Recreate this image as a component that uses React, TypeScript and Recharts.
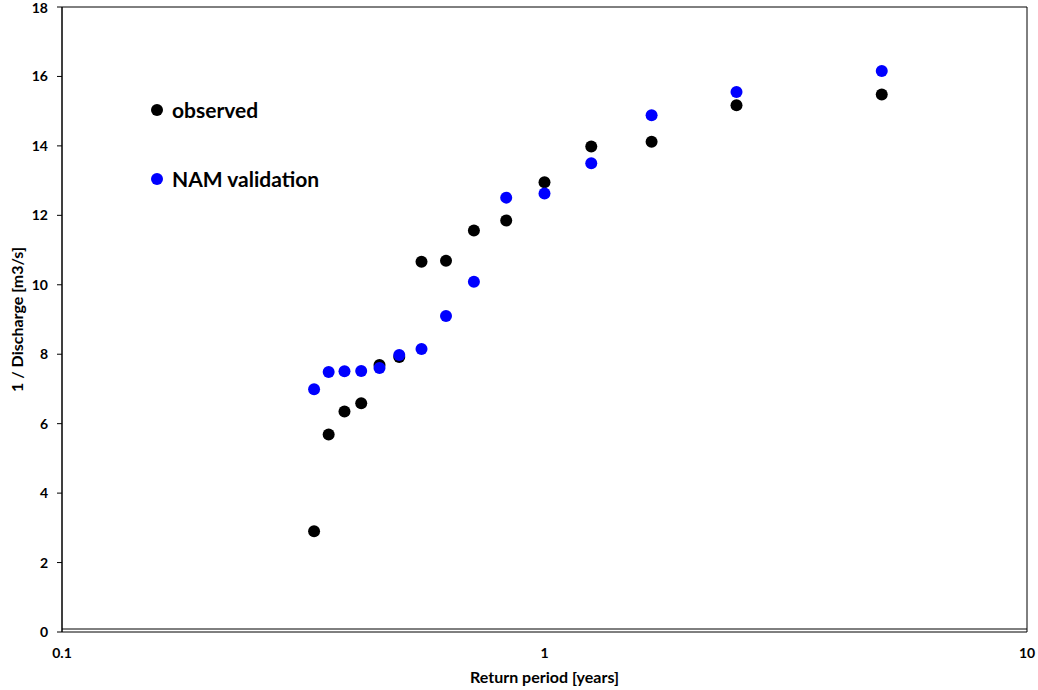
import {
  ScatterChart,
  Scatter,
  XAxis,
  YAxis,
  ReferenceArea,
  Legend,
} from "recharts"

const returnPeriod = [0.333, 0.357, 0.385, 0.417, 0.455, 0.5, 0.556, 0.625, 0.714, 0.833, 1, 1.25, 1.667, 2.5, 5]
const observed = [2.9, 5.69, 6.35, 6.59, 7.69, 7.92, 10.66, 10.69, 11.56, 11.85, 12.95, 13.98, 14.12, 15.17, 15.48]
const namValidation = [6.99, 7.49, 7.51, 7.52, 7.6, 7.98, 8.15, 9.1, 10.09, 12.51, 12.63, 13.5, 14.88, 15.55, 16.16]

const seriesNames = ["observed", "NAM validation"]
const xTicks = [0.1, 1, 10]
const yTicks = [0, 2, 4, 6, 8, 10, 12, 14, 16, 18]

const FONT = "Lato, 'Open Sans', sans-serif"

const observedData = returnPeriod.map((x, i) => ({ x, y: observed[i] }))
const namData = returnPeriod.map((x, i) => ({ x, y: namValidation[i] }))

function Dot(props: any) {
  return <circle cx={props.cx} cy={props.cy} r={6} fill={props.fill} />
}

function LegendBox({ payload }: { payload?: { value: string; color: string }[] }) {
  if (!payload) return null
  return (
    <div style={{ fontFamily: FONT, fontWeight: 700, fontSize: 21, color: "#000" }}>
      {payload.map((entry) => (
        <div key={entry.value} style={{ display: "flex", alignItems: "center", height: 69 }}>
          <span
            style={{
              display: "inline-block",
              width: 12,
              height: 12,
              borderRadius: 6,
              background: entry.color,
              marginRight: 9,
            }}
          />
          {entry.value}
        </div>
      ))}
    </div>
  )
}

export default function App() {
  return (
    <div style={{ position: "absolute", left: 0, top: 0, width: 1038, height: 690, background: "#fff" }}>
      <ScatterChart width={1038} height={690} margin={{ top: 7, right: 11, bottom: 0, left: 0 }}>
        <XAxis
          type="number"
          dataKey="x"
          scale="log"
          domain={[0.1, 10]}
          ticks={xTicks}
          allowDataOverflow
          height={58}
          tickLine={false}
          tickSize={6}
          tickMargin={10}
          axisLine={{ stroke: "#000", transform: "translate(0,-3)" }}
          tick={{ fill: "#000", fontSize: 14, fontWeight: 700, fontFamily: FONT }}
          label={{
            content: ({ viewBox }: any) => (
              <text
                x={viewBox.x + viewBox.width / 2}
                y={viewBox.y + 51}
                textAnchor="middle"
                style={{ fontFamily: FONT, fontSize: 16, fontWeight: 700, fill: "#000" }}
              >
                Return period [years]
              </text>
            ),
          }}
        />
        <YAxis
          type="number"
          dataKey="y"
          domain={[0, 18]}
          ticks={yTicks}
          width={62}
          tickSize={5}
          tickMargin={9}
          tickLine={{ stroke: "#000" }}
          axisLine={{ stroke: "#000" }}
          tick={{ fill: "#000", fontSize: 14, fontWeight: 700, fontFamily: FONT }}
          label={{
            content: ({ viewBox }: any) => {
              const cx = viewBox.x + 16
              const cy = viewBox.y + viewBox.height / 2
              return (
                <text
                  x={cx}
                  y={cy}
                  transform={`rotate(-90 ${cx} ${cy})`}
                  textAnchor="middle"
                  dominantBaseline="central"
                  style={{ fontFamily: FONT, fontSize: 16, fontWeight: 700, fill: "#000" }}
                >
                  1 / Discharge [m3/s]
                </text>
              )
            },
          }}
        />
        <ReferenceArea x1={0.1} x2={10} y1={0} y2={18} fill="none" stroke="#000" strokeWidth={1} ifOverflow="visible" />
        <Legend
          layout="horizontal"
          verticalAlign="middle"
          itemSorter={(item: any) => seriesNames.indexOf(item.value)}
          content={<LegendBox />}
          wrapperStyle={{ position: "absolute", left: 151, top: 75, width: 260 }}
        />
        <Scatter name={seriesNames[0]} data={observedData} fill="#000" shape={<Dot />} isAnimationActive={false} />
        <Scatter name={seriesNames[1]} data={namData} fill="#0000ff" shape={<Dot />} isAnimationActive={false} />
      </ScatterChart>
    </div>
  )
}
